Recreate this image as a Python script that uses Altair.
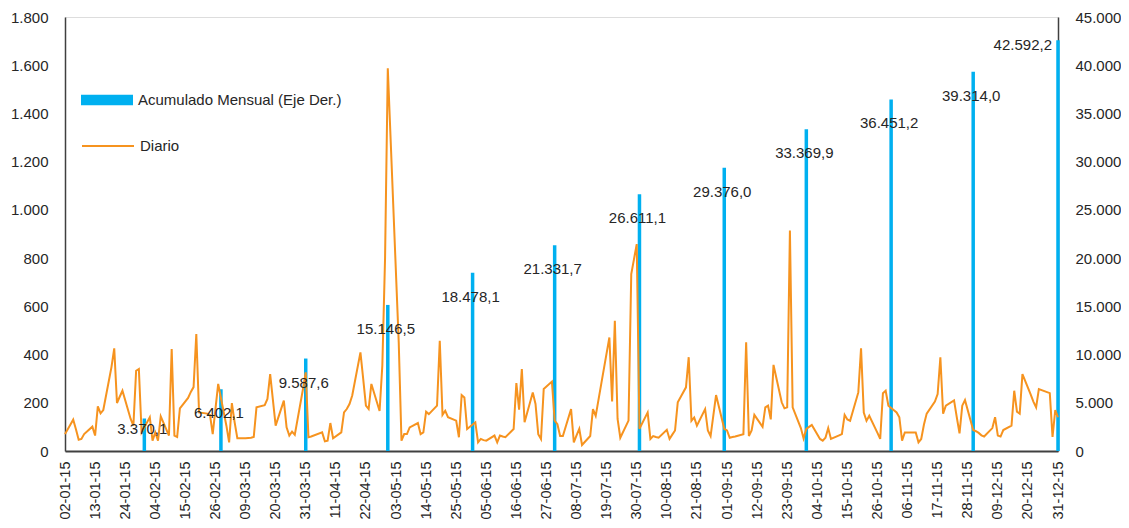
import altair as alt
import pandas as pd

# ---------------- data ----------------
# Daily values ("Diario"), day-of-month and value for each month of 2015
jan_days = [2, 5, 6, 7, 8, 9, 12, 13, 14, 15, 16, 19, 20, 21, 22, 23, 26, 27, 28, 29, 30]
jan_vals = [70, 130, 90, 47, 50, 70, 101, 64, 185, 156, 170, 349, 426, 199, 225, 250, 133, 105, 333, 340, 77]
feb_days = [2, 3, 4, 5, 6, 9, 10, 11, 12, 13, 16, 17, 18, 19, 20, 23, 24, 25, 26, 27]
feb_vals = [140, 43, 77, 43, 144, 64, 423, 64, 58, 177, 220, 245, 265, 485, 160, 155, 150, 70, 175, 278]
mar_days = [2, 3, 4, 5, 6, 9, 10, 11, 12, 13, 16, 17, 18, 19, 20, 23, 24, 25, 26, 27, 30, 31]
mar_vals = [105, 36, 199, 120, 53, 53, 54, 55, 58, 181, 190, 216, 319, 212, 105, 209, 98, 64, 80, 67, 257, 326]
apr_days = [1, 2, 6, 7, 8, 9, 10, 13, 14, 15, 16, 17, 20, 21, 22, 23, 24, 27, 28, 29, 30]
apr_vals = [57, 60, 77, 40, 43, 116, 53, 77, 160, 174, 195, 230, 409, 300, 188, 174, 278, 166, 354, 800, 1587]
may_days = [4, 5, 6, 7, 8, 11, 12, 13, 14, 15, 18, 19, 20, 21, 22, 25, 26, 27, 28, 29]
may_vals = [450, 43, 70, 70, 98, 116, 70, 77, 163, 153, 188, 457, 150, 167, 140, 126, 57, 232, 222, 91]
jun_days = [1, 2, 3, 4, 5, 8, 9, 10, 11, 12, 15, 16, 17, 18, 19, 22, 23, 24, 25, 26, 29, 30]
jun_vals = [119, 36, 50, 45, 43, 64, 36, 64, 60, 57, 91, 282, 171, 340, 119, 243, 195, 70, 50, 257, 288, 126]
jul_days = [1, 2, 3, 6, 7, 8, 9, 10, 13, 14, 15, 16, 17, 20, 21, 22, 23, 24, 27, 28, 29, 30, 31]
jul_vals = [111, 62, 62, 174, 36, 65, 92, 25, 62, 174, 146, 211, 276, 471, 205, 540, 133, 55, 126, 734, 796, 858, 92]
aug_days = [3, 4, 5, 6, 7, 10, 11, 12, 13, 14, 17, 18, 19, 20, 21, 24, 25, 26, 27, 28, 31]
aug_vals = [160, 50, 62, 58, 55, 88, 50, 68, 85, 202, 264, 389, 125, 139, 105, 174, 85, 62, 147, 232, 92]
sep_days = [1, 2, 3, 4, 7, 8, 9, 10, 11, 14, 15, 16, 17, 18, 21, 22, 23, 24, 25, 28, 29, 30]
sep_vals = [85, 55, 58, 60, 70, 451, 62, 85, 150, 100, 181, 188, 131, 357, 202, 177, 181, 914, 181, 95, 52, 92]
oct_days = [1, 2, 5, 6, 7, 8, 9, 12, 13, 14, 15, 16, 19, 20, 21, 22, 23, 26, 27, 28, 29, 30]
oct_vals = [100, 108, 50, 43, 55, 95, 50, 65, 70, 150, 131, 125, 243, 426, 159, 125, 146, 75, 50, 240, 250, 188]
nov_days = [2, 3, 4, 5, 6, 9, 10, 11, 12, 13, 16, 17, 18, 19, 20, 23, 24, 25, 26, 27, 30]
nov_vals = [160, 140, 43, 77, 77, 77, 36, 50, 110, 155, 205, 236, 389, 155, 188, 210, 140, 73, 188, 211, 87]
dec_days = [1, 2, 3, 4, 7, 8, 9, 10, 11, 14, 15, 16, 17, 18, 21, 22, 23, 24, 28, 29, 30, 31]
dec_vals = [82, 75, 65, 60, 95, 140, 64, 60, 87, 105, 250, 163, 155, 319, 235, 205, 181, 257, 240, 58, 170, 140]

# Monthly cumulative ("Acumulado Mensual", right axis)
month_end = ["2015-01-31", "2015-02-28", "2015-03-31", "2015-04-30", "2015-05-31", "2015-06-30",
             "2015-07-31", "2015-08-31", "2015-09-30", "2015-10-31", "2015-11-30", "2015-12-31"]
cumulative = [3370.1, 6402.1, 9587.6, 15146.5, 18478.1, 21331.7,
              26611.1, 29376.0, 33369.9, 36451.2, 39314.0, 42592.2]

# Axis tick labels
x_tick_labels = ["02-01-15", "13-01-15", "24-01-15", "04-02-15", "15-02-15", "26-02-15",
                 "09-03-15", "20-03-15", "31-03-15", "11-04-15", "22-04-15", "03-05-15",
                 "14-05-15", "25-05-15", "05-06-15", "16-06-15", "27-06-15", "08-07-15",
                 "19-07-15", "30-07-15", "10-08-15", "21-08-15", "01-09-15", "12-09-15",
                 "23-09-15", "04-10-15", "15-10-15", "26-10-15", "06-11-15", "17-11-15",
                 "28-11-15", "09-12-15", "20-12-15", "31-12-15"]
left_ticks = [0, 200, 400, 600, 800, 1000, 1200, 1400, 1600, 1800]
right_ticks = [0, 5000, 10000, 15000, 20000, 25000, 30000, 35000, 40000, 45000]

SERIE_BAR = "Acumulado Mensual (Eje Der.)"
SERIE_LINE = "Diario"

# ---------------- tables ----------------
days_by_month = [jan_days, feb_days, mar_days, apr_days, may_days, jun_days,
                 jul_days, aug_days, sep_days, oct_days, nov_days, dec_days]
vals_by_month = [jan_vals, feb_vals, mar_vals, apr_vals, may_vals, jun_vals,
                 jul_vals, aug_vals, sep_vals, oct_vals, nov_vals, dec_vals]
rows = []
for m, (ds, vs) in enumerate(zip(days_by_month, vals_by_month), start=1):
    for d, v in zip(ds, vs):
        rows.append({"fecha": f"2015-{m:02d}-{d:02d}", "diario": v, "serie": SERIE_LINE})
daily = pd.DataFrame(rows)

monthly = pd.DataFrame({"fecha": month_end, "acumulado": cumulative})
monthly["idx"] = list(range(len(monthly)))
monthly["serie"] = SERIE_BAR


def to_ms(ts):
    return int(ts.timestamp() * 1000)


tick_ms = [to_ms(pd.to_datetime(s, format="%d-%m-%y").tz_localize("UTC")) for s in x_tick_labels]
t0, t1 = tick_ms[0], tick_ms[-1]

# ---------------- style ----------------
ORANGE = "#F6931F"
BLUE = "#00B0F0"
TXT = "#262626"
AXIS = "#404040"
FONT = "Liberation Sans"
DOT_THOUSANDS = "replace(format(datum.value, ','), ',', '.')"

x_enc = alt.X(
    "fecha:T", title=None,
    scale=alt.Scale(type="utc", domain=[t0, t1], nice=False, padding=0),
    axis=alt.Axis(values=tick_ms, labelExpr="utcFormat(datum.value, '%d-%m-%y')",
                  labelAngle=270, labelFontSize=14.5, labelColor=TXT, labelPadding=10,
                  labelOverlap=False, labelFlush=False, ticks=False, grid=False,
                  domainColor=AXIS, domainWidth=2),
)

y_left = alt.Y(
    "diario:Q", title=None,
    scale=alt.Scale(domain=[0, 1800], nice=False),
    axis=alt.Axis(orient="left", values=left_ticks, labelExpr=DOT_THOUSANDS, ticks=False,
                  grid=False, domainColor=AXIS, domainWidth=1.5, labelPadding=17,
                  labelFontSize=15, labelColor=TXT, minExtent=57, maxExtent=57),
)

y_right = alt.Y(
    "acumulado:Q", title=None,
    scale=alt.Scale(domain=[0, 45000], nice=False),
    axis=alt.Axis(orient="right", values=right_ticks, labelExpr=DOT_THOUSANDS, ticks=False,
                  grid=False, domainColor=AXIS, domainWidth=1.5, labelPadding=17,
                  labelFontSize=15, labelColor=TXT),
)
y_right_noaxis = alt.Y("acumulado:Q", title=None,
                       scale=alt.Scale(domain=[0, 45000], nice=False), axis=None)

bars = alt.Chart(monthly).mark_bar(size=3.5).encode(
    x=x_enc, y=y_right,
    fill=alt.Fill("serie:N", scale=alt.Scale(domain=[SERIE_BAR], range=[BLUE]),
                  legend=alt.Legend(title=None, orient="none", legendX=16, legendY=57,
                                    symbolType="M-1,-0.2H1V0.2H-1Z", symbolSize=2704,
                                    symbolStrokeWidth=0, labelFontSize=15, labelColor=TXT,
                                    labelFont=FONT, labelOffset=5, labelLimit=0, padding=0)),
)

line = alt.Chart(daily).mark_line(strokeWidth=2).encode(
    x=x_enc, y=y_left,
    stroke=alt.Stroke("serie:N", scale=alt.Scale(domain=[SERIE_LINE], range=[ORANGE]),
                      legend=alt.Legend(title=None, orient="none", legendX=16, legendY=102,
                                        symbolType="stroke", symbolSize=2704,
                                        symbolStrokeWidth=2, labelFontSize=15, labelColor=TXT,
                                        labelFont=FONT, labelOffset=5, labelLimit=0, padding=0)),
)

LABEL_EXPR = ("replace(replace(replace(format(datum.acumulado, ',.1f'), ',', '_'), '.', ','), '_', '.')")
base_text = alt.Chart(monthly).transform_calculate(label=LABEL_EXPR)

t_main = base_text.transform_filter("datum.idx > 0 && datum.idx < 11").mark_text(
    dx=-2, dy=24, fontSize=15, color=TXT, align="center", baseline="middle", font=FONT
).encode(x=x_enc, y=y_right_noaxis, text="label:N")

t_first = base_text.transform_filter("datum.idx == 0").mark_text(
    dx=-2, dy=11, fontSize=15, color=TXT, align="center", baseline="middle", font=FONT
).encode(x=x_enc, y=y_right_noaxis, text="label:N")

t_last = base_text.transform_filter("datum.idx == 11").mark_text(
    dx=-6, dy=5, fontSize=15, color=TXT, align="right", baseline="middle", font=FONT
).encode(x=x_enc, y=y_right_noaxis, text="label:N")

chart = (
    alt.layer(bars, line, t_main, t_first, t_last)
    .resolve_scale(y="independent")
    .properties(width=993, height=434,
                padding={"left": 0, "top": 2, "right": 0, "bottom": 0})
    .configure_view(stroke=None)
    .configure(font=FONT, background="white")
)

chart.save("out.html", embed_options={"renderer": "svg", "actions": False})
